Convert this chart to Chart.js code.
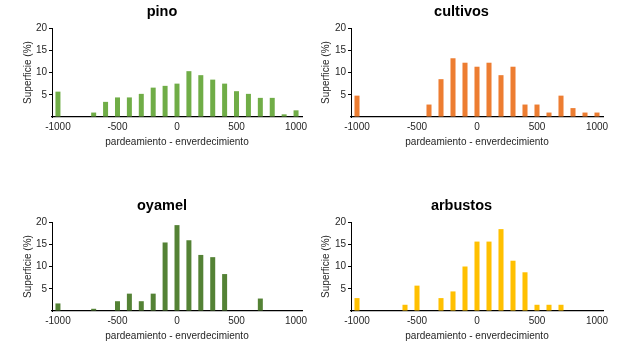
<!DOCTYPE html>
<html>
<head>
<meta charset="utf-8">
<script src="https://cdn.jsdelivr.net/npm/chart.js@4"></script>
<style>
    body { margin: 0; background: #fff; }
    #wrap { position: relative; width: 627px; height: 344px; }
    canvas { position: absolute; }
</style>
</head>
<body>
<div id="wrap">
    <canvas id="pino" width="334" height="160" style="left:0;top:0"></canvas>
    <canvas id="cultivos" width="310" height="160" style="left:310px;top:0"></canvas>
    <canvas id="oyamel" width="334" height="160" style="left:0;top:194px"></canvas>
    <canvas id="arbustos" width="310" height="160" style="left:310px;top:194px"></canvas>
</div>
<script>
// classes: pardeamiento (-) to enverdecimiento (+)
const clases = [-1000, -900, -800, -700, -600, -500, -400, -300, -200, -100, 0,
    100, 200, 300, 400, 500, 600, 700, 800, 900, 1000];
const xTickLabels = ['-1000', '-500', '0', '500', '1000'];

// Superficie (%) per class
const pino = [5.7, 0, 0, 1.0, 3.4, 4.4, 4.4, 5.2, 6.6, 7.0, 7.5,
    10.3, 9.4, 8.4, 7.5, 5.8, 5.2, 4.3, 4.3, 0.6, 1.5];
const cultivos = [4.8, 0, 0, 0, 0, 0, 2.8, 8.5, 13.2, 12.2, 11.3,
    12.2, 9.4, 11.3, 2.8, 2.8, 1.0, 4.8, 2.0, 1.0, 1.0];
const oyamel = [1.7, 0, 0, 0.5, 0, 2.2, 3.9, 2.2, 3.9, 15.4, 19.3,
    15.9, 12.6, 12.1, 8.3, 0, 0, 2.8, 0, 0, 0];
const arbustos = [2.9, 0, 0, 0, 1.4, 5.7, 0, 2.9, 4.4, 10.0, 15.6,
    15.6, 18.4, 11.3, 8.7, 1.4, 1.4, 1.4, 0, 0, 0];

Chart.defaults.font.family = "'Liberation Sans', Arial, sans-serif";
Chart.defaults.color = '#262626';

const makeChart = (id, title, values, color, padLeft, yWidth, padRight) => {
    return new Chart(document.getElementById(id), {
        type: 'bar',
        data: {
            labels: clases.map(String),
            datasets: [{
                label: title,
                data: values,
                backgroundColor: color,
                barPercentage: 0.42,
                categoryPercentage: 1
            }]
        },
        options: {
            responsive: false,
            animation: false,
            layout: { padding: { left: padLeft, right: padRight, top: 0, bottom: 12 } },
            plugins: {
                legend: { display: false },
                tooltip: { enabled: false },
                title: {
                    display: true,
                    text: title,
                    color: '#000',
                    font: { size: 14.5, weight: 'bold' },
                    padding: { top: 3, bottom: 7.6 }
                }
            },
            scales: {
                x: {
                    grid: { display: false, drawTicks: false },
                    border: { display: true, color: '#000', width: 1.2 },
                    ticks: {
                        autoSkip: false,
                        maxRotation: 0,
                        padding: 4,
                        font: { size: 10 },
                        callback: (v, i) => xTickLabels.includes(String(clases[i])) ? String(clases[i]) : ''
                    },
                    title: {
                        display: true,
                        text: 'pardeamiento - enverdecimiento',
                        font: { size: 10 },
                        padding: 0
                    },
                    afterFit: (axis) => { axis.height = 31; }
                },
                y: {
                    min: 0,
                    max: 20,
                    grid: {
                        drawOnChartArea: false,
                        tickLength: 3,
                        color: (ctx) => ctx.tick && ctx.tick.value === 0 ? 'rgba(0,0,0,0)' : '#000'
                    },
                    border: { display: true, color: '#000', width: 1 },
                    ticks: {
                        stepSize: 5,
                        padding: 2,
                        font: { size: 10 },
                        callback: (v) => v === 0 ? '' : v
                    },
                    title: {
                        display: true,
                        text: 'Superficie (%)',
                        font: { size: 10 },
                        padding: 0
                    },
                    afterFit: (axis) => { axis.width = yWidth; }
                }
            }
        }
    });
};

makeChart('pino', 'pino', pino, '#70AD47', 22, 30, 32);
makeChart('cultivos', 'cultivos', cultivos, '#ED7D31', 10, 31, 17);
makeChart('oyamel', 'oyamel', oyamel, '#548235', 22, 30, 32);
makeChart('arbustos', 'arbustos', arbustos, '#FFC000', 10, 31, 17);
</script>
</body>
</html>
